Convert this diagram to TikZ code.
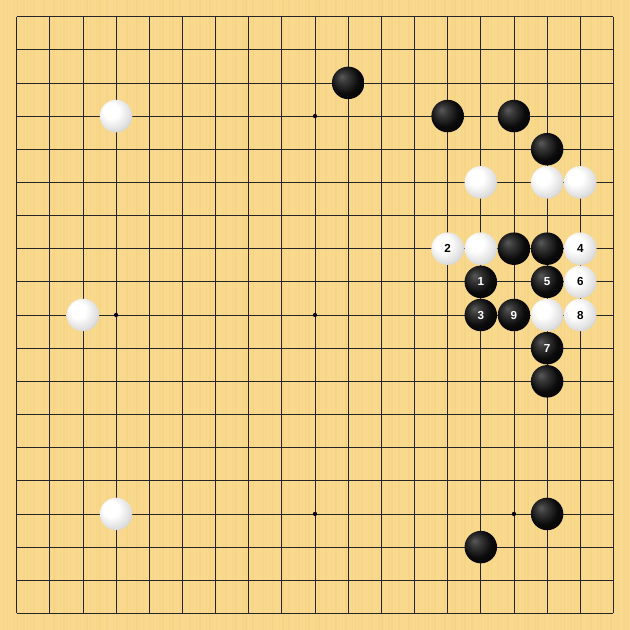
\documentclass[tikz,border=0pt]{standalone}
\usepackage{fontspec}
\setsansfont{Liberation Sans}
\usepackage{tikz}

\definecolor{board}{HTML}{F9D98D}
\definecolor{grain}{HTML}{EFC874}
\pgfdeclareradialshading{blackstone}{\pgfpoint{-10bp}{10bp}}{color(0bp)=(black!65); color(8bp)=(black!78); color(22bp)=(black!96); color(38bp)=(black); color(50bp)=(black!80)}
\pgfdeclareradialshading{whitestone}{\pgfpoint{-10bp}{10bp}}{color(0bp)=(white); color(12bp)=(white); color(26bp)=(black!12); color(40bp)=(black!28); color(50bp)=(black!45)}

\begin{document}
\begin{tikzpicture}[x=1cm, y=-1cm,
  grid/.style={line width=0.6pt, black!85},
  hoshi/.style={circle, fill=black, inner sep=0pt, minimum size=1.3mm},
  stone/.style={circle, minimum size=0.98cm, inner sep=0pt, font=\sffamily\bfseries\fontsize{10}{11}\selectfont},
  bstone/.style={stone, shading=blackstone, text=white},
  wstone/.style={stone, shading=whitestone, text=black}]
  \useasboundingbox (-0.5,-0.5) rectangle (18.5,18.5);
  \fill[board] (-0.5,-0.5) rectangle (18.5,18.5);
  % wood grain
  \foreach \k in {0,...,189} {
    \pgfmathsetmacro{\op}{mod(\k*37,11)/35}
    \fill[grain, opacity=\op] (-0.5+\k*0.1,-0.5) rectangle (-0.45+\k*0.1,18.5);
  }
  % lines of the board
  \foreach \i in {0,...,18} {
    \draw[grid] (\i,0) -- (\i,18);
    \draw[grid] (0,\i) -- (18,\i);
  }
  \foreach \c in {3,9,15}
    \foreach \r in {3,9,15}
      \node[hoshi] (h\c-\r) at (\c,\r) {};
  % black stones
  \foreach \c/\r/\t in {10/2/, 13/3/, 15/3/, 16/4/, 15/7/, 16/7/, 14/8/1, 16/8/5,
      14/9/3, 15/9/9, 16/10/7, 16/11/, 16/15/, 14/16/}
    \node[bstone] (b\c-\r) at (\c,\r) {\t};
  % white stones
  \foreach \c/\r/\t in {3/3/, 2/9/, 3/15/, 14/5/, 16/5/, 17/5/, 13/7/2, 14/7/,
      17/7/4, 17/8/6, 16/9/, 17/9/8}
    \node[wstone] (w\c-\r) at (\c,\r) {\t};
\end{tikzpicture}
\end{document}
